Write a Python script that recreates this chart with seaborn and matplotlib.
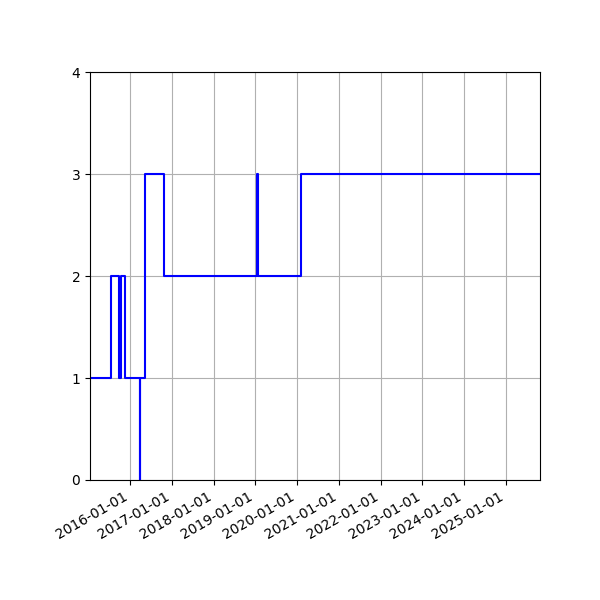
import matplotlib
matplotlib.use("Agg")
import matplotlib.pyplot as plt
import matplotlib.dates as mdates
import pandas as pd
import seaborn as sns

# 状态变化时间点
dates = ['2015-01-17', '2015-07-16', '2015-09-29', '2015-10-14', '2015-11-17',
         '2016-03-28', '2016-04-02', '2016-05-14', '2016-10-22',
         '2019-01-16', '2019-01-20', '2020-02-07', '2025-10-24']
values = [1, 2, 1, 2, 1, 0, 1, 3, 2, 3, 2, 3, 3]

df = pd.DataFrame({"date": pd.to_datetime(dates), "value": values})

fig, ax = plt.subplots(figsize=(6, 6), dpi=100)
sns.lineplot(data=df, x="date", y="value", ax=ax, color="blue",
             drawstyle="steps-post", linewidth=1.5)

ax.set_xlim(df["date"].iloc[0], df["date"].iloc[-1])
ax.set_ylim(0, 4)
ax.set_yticks([0, 1, 2, 3, 4])
ax.xaxis.set_major_locator(mdates.YearLocator())
ax.xaxis.set_major_formatter(mdates.DateFormatter("%Y-%m-%d"))
ax.set_xlabel("")
ax.set_ylabel("")
ax.grid(True)
fig.autofmt_xdate()
fig.subplots_adjust(left=0.15, right=0.9, top=0.88, bottom=0.2)

fig.savefig("out.png")
